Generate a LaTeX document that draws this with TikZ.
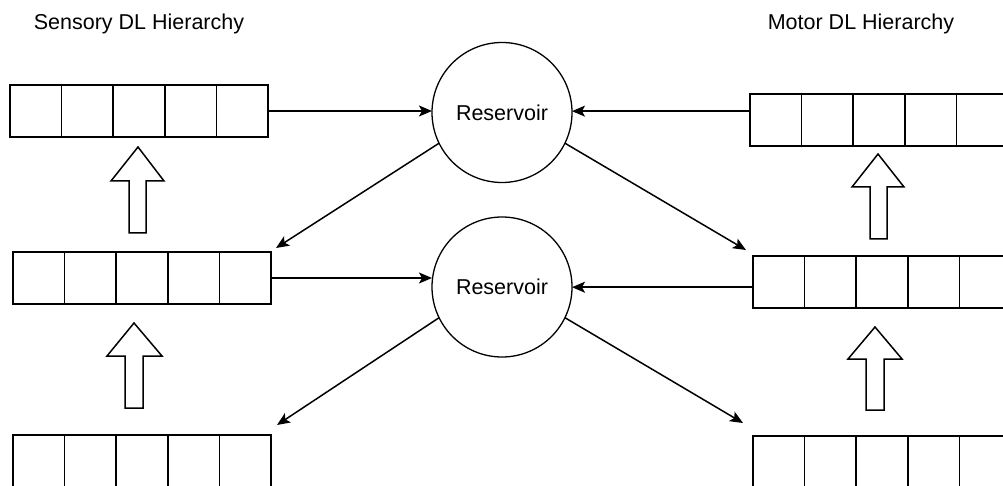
\documentclass[tikz,border=0pt]{standalone}
\usepackage{fontspec}
\setmainfont{Liberation Sans}
\usetikzlibrary{calc,arrows.meta}
\begin{document}
\begin{tikzpicture}[x=1pt,y=-1pt,
  line width=1.5pt,
  arr/.style={draw,rectangle,minimum width=258pt,minimum height=52pt,inner sep=0pt,outer sep=0pt},
  res/.style={draw,circle,minimum size=140pt,inner sep=0pt,outer sep=0pt,line width=1.3pt,font=\fontsize{21.5}{25}\selectfont},
  ttl/.style={font=\fontsize{21.5}{25}\selectfont,inner sep=0pt},
  conn/.style={-{Stealth[length=13pt,width=11pt,inset=3pt]},line width=1.5pt},
  bigarrow/.style={draw,line width=1.5pt,line join=miter,fill=white}]
\useasboundingbox (0,0) rectangle (1003,486);
\clip (0,0) rectangle (1003,486);

% titles
\node[ttl] (tS) at (139,24) {Sensory DL Hierarchy};
\node[ttl] (tM) at (861,24) {Motor DL Hierarchy};

% arrays
\node[arr] (s1) at (139,111) {};
\node[arr] (s2) at (142,278) {};
\node[arr] (s3) at (142,461) {};
\node[arr] (m1) at (879,120) {};
\node[arr] (m2) at (882,282) {};
\node[arr] (m3) at (882,462) {};
\foreach \a in {s1,s2,s3,m1,m2,m3}{
  \foreach \k in {1,2,3,4}{
    \draw ($(\a.north west)!\k/5!(\a.north east)$) -- ($(\a.south west)!\k/5!(\a.south east)$);
  }
}

% reservoirs
\node[res] (r1) at (502,112.5) {Reservoir};
\node[res] (r2) at (502,287) {Reservoir};

% horizontal connectors
\coordinate (m1in) at ($(m1.north west)!0.33!(m1.south west)$);
\coordinate (m2in) at ($(m2.north west)!0.6!(m2.south west)$);
\draw[conn] (s1.east) -- (s1.east -| r1.west);
\draw[conn] (m1in) -- (m1in -| r1.east);
\draw[conn] (s2.east) -- (s2.east -| r2.west);
\draw[conn] (m2in) -- (m2in -| r2.east);

% diagonal connectors
\coordinate (s2t) at ($(s2.north east)+(5,-4)$);
\coordinate (m2t) at ($(m2.north west)+(-7,-6)$);
\coordinate (s3t) at ($(s3.north east)+(6,-10)$);
\coordinate (m3t) at ($(m3.north west)+(-10,-13)$);
\draw[conn] (r1.206) -- (s2t);
\draw[conn] (r1.-26) -- (m2t);
\draw[conn] (r2.206) -- (s3t);
\draw[conn] (r2.-26) -- (m3t);

% hollow up arrows: tip x, tip y, wing y, wing left, wing right, shaft left, shaft right, bottom
\foreach \tx/\ty/\wy/\wl/\wr/\sl/\sr/\by in {
  138/147/181/111/164/129/146/233,
  134/323/356/107/162/125/143/408,
  878/154/187/852/904/870/887/239,
  875/327/359/848/902/866/884/410}{
  \draw[bigarrow] (\tx,\ty) -- (\wr,\wy) -- (\sr,\wy) -- (\sr,\by) -- (\sl,\by) -- (\sl,\wy) -- (\wl,\wy) -- cycle;
}
\end{tikzpicture}
\end{document}
